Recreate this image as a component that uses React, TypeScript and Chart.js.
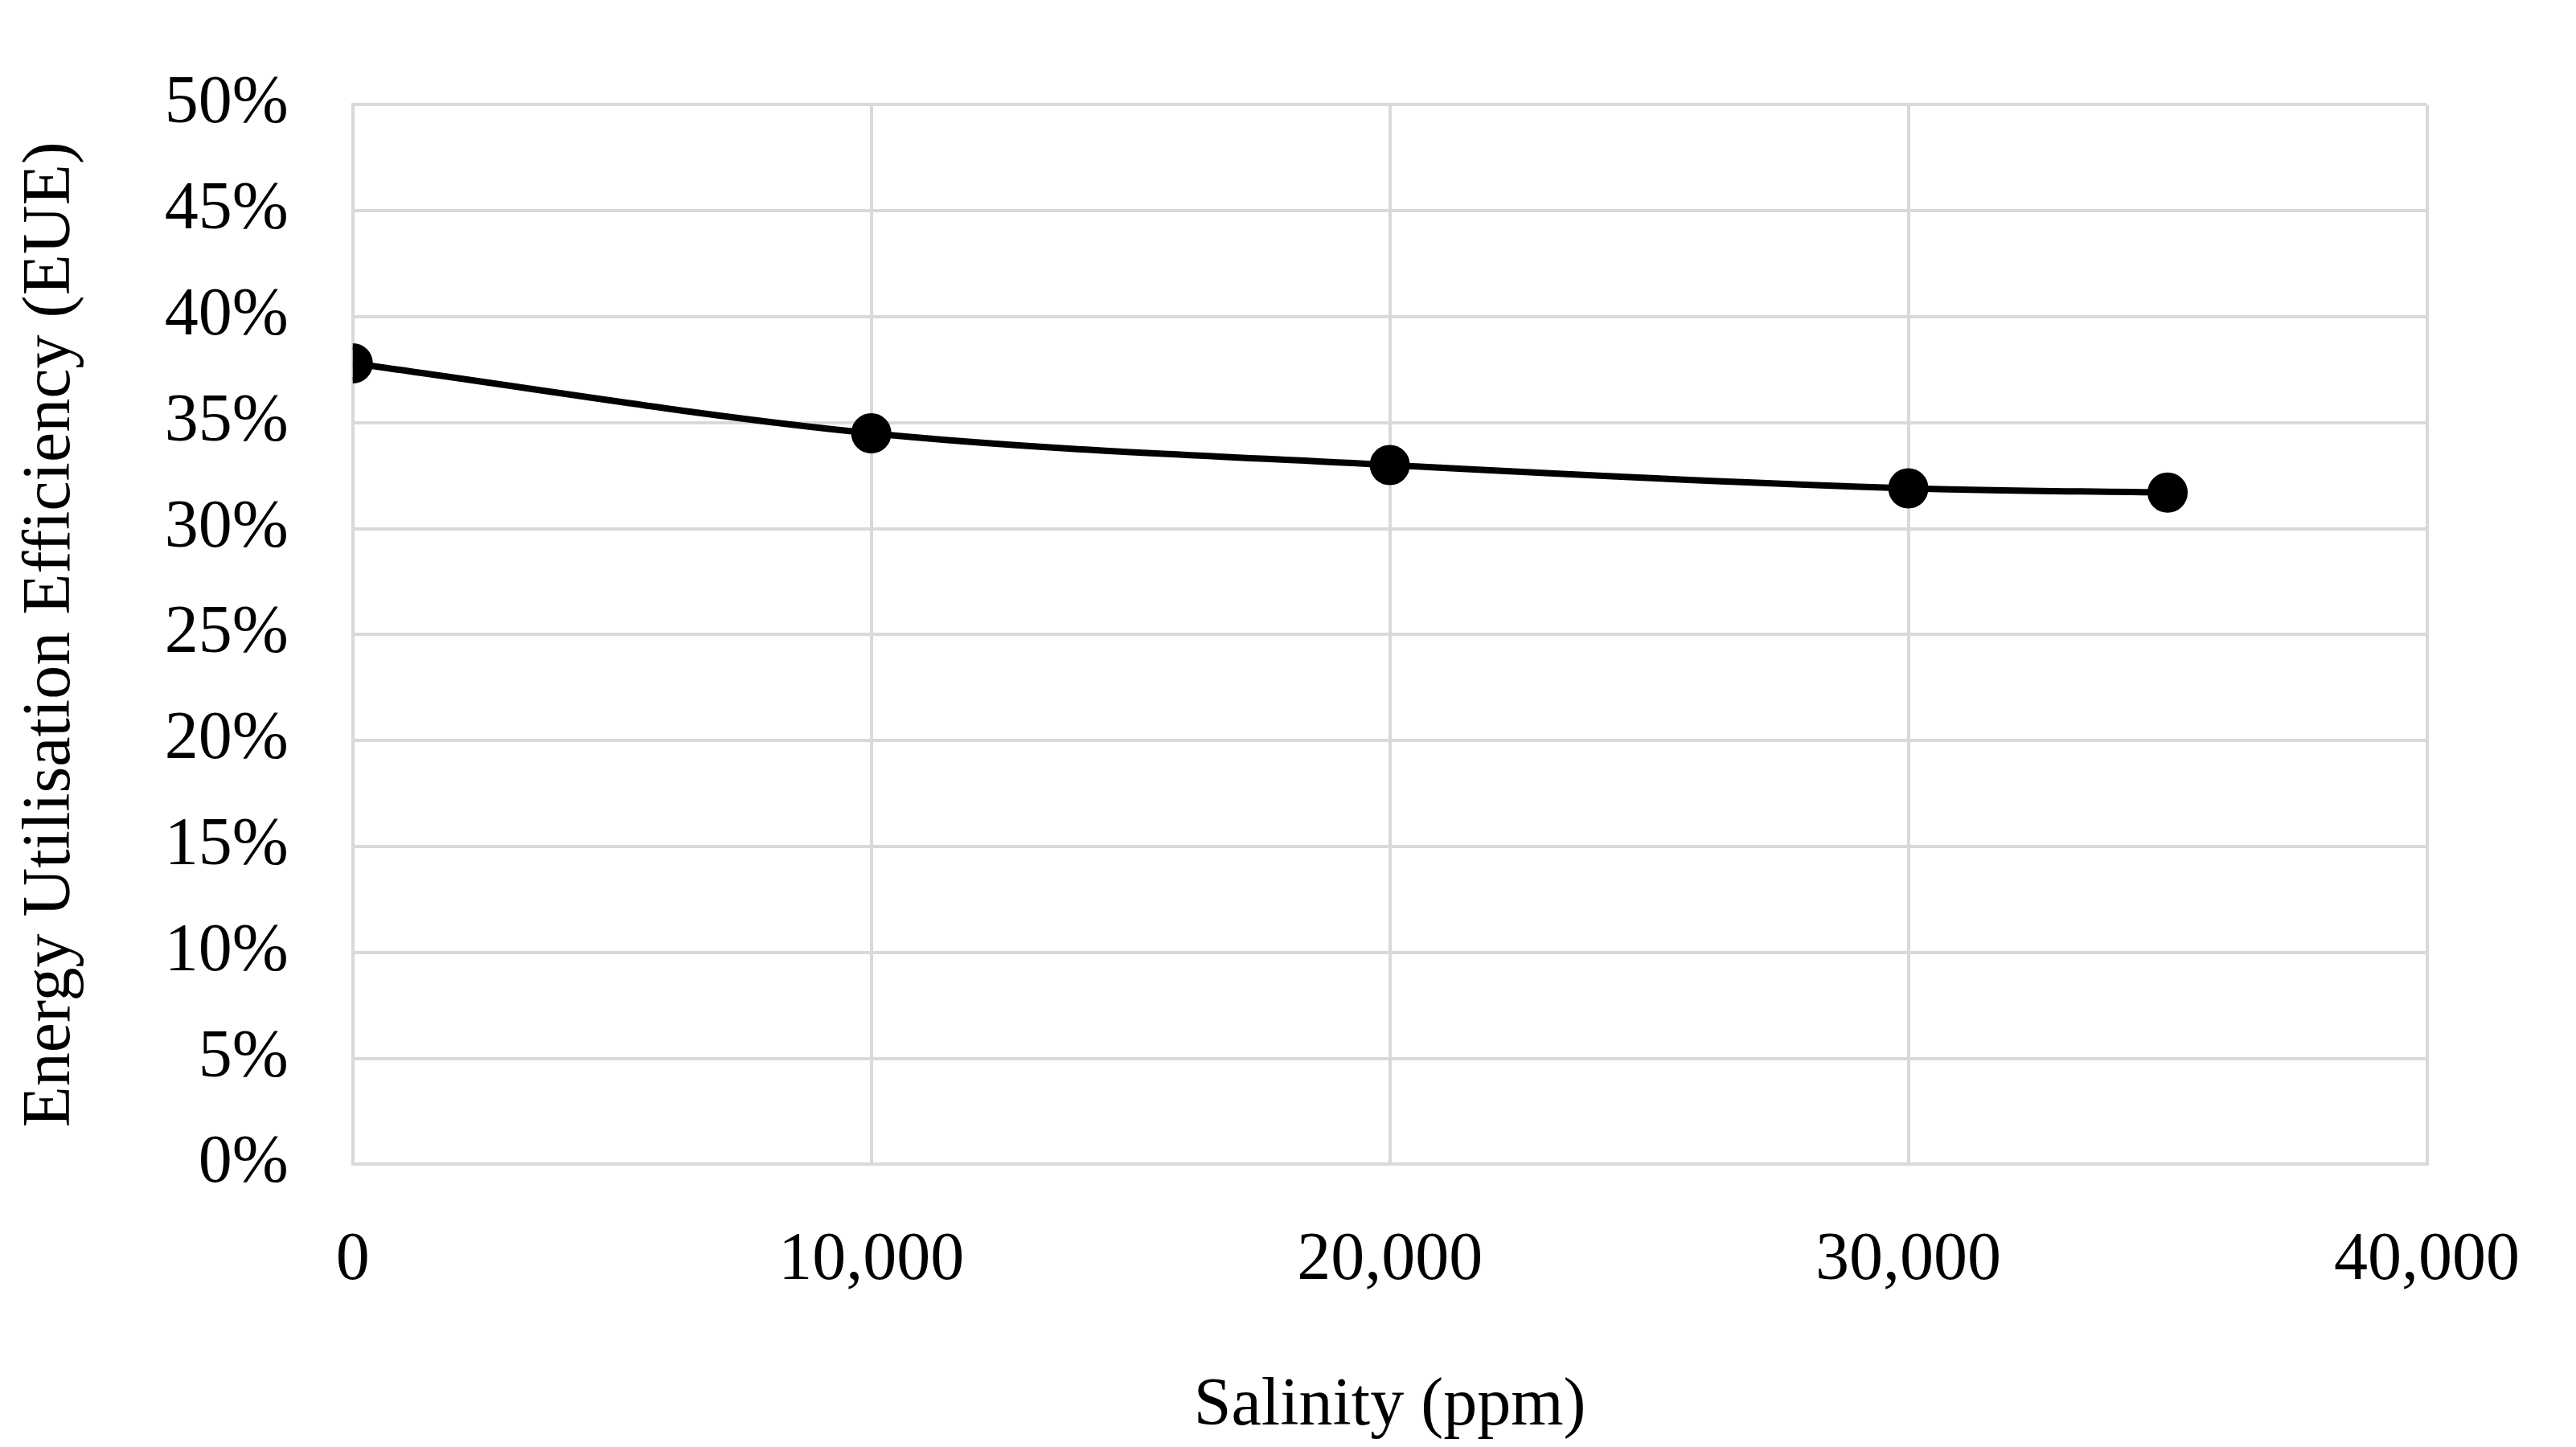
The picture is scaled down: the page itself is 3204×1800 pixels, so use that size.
import React, { useEffect, useRef } from "react";
import { Chart, registerables } from "chart.js";
Chart.register(...registerables);

const salinity = [0, 10000, 20000, 30000, 35000];
const eue = [0.378, 0.345, 0.330, 0.319, 0.317];

export default function App() {
  const ref = useRef<HTMLCanvasElement>(null);
  useEffect(() => {
    document.body.style.margin = "0";
    const font = { family: "'Liberation Serif', 'DejaVu Serif', serif", size: 84 };
    const chart = new Chart(ref.current!, {
      type: "line",
      data: {
        datasets: [{
          data: salinity.map((x, i) => ({ x, y: eue[i] })),
          borderColor: "#000", backgroundColor: "#000",
          borderWidth: 8, pointRadius: 21, cubicInterpolationMode: "monotone",
        }],
      },
      options: {
        animation: false, responsive: false,
        layout: { padding: { top: 30, right: 10, left: 10, bottom: 0 } },
        plugins: { legend: { display: false }, tooltip: { enabled: false } },
        scales: {
          x: {
            type: "linear", min: 0, max: 40000,
            ticks: { stepSize: 10000, color: "#000", font, padding: 70,
              callback: (v: any) => Number(v).toLocaleString("en-US") },
            grid: { color: "#d9d9d9", lineWidth: 4, tickLength: 0 },
            border: { color: "#d9d9d9", width: 4 },
            title: { display: true, text: "Salinity (ppm)", color: "#000", font, padding: { top: 10, bottom: 0 } },
          },
          y: {
            min: 0, max: 0.5,
            ticks: { stepSize: 0.05, color: "#000", font, padding: 80,
              callback: (v: any) => Math.round(Number(v) * 100) + "%" },
            grid: { color: "#d9d9d9", lineWidth: 4, tickLength: 0 },
            border: { color: "#d9d9d9", width: 4 },
            title: { display: true, text: "Energy Utilisation Efficiency (EUE)", color: "#000", font, padding: { bottom: 10 } },
          },
        },
      },
    } as any);
    return () => chart.destroy();
  }, []);
  return <canvas ref={ref} width={3204} height={1800} style={{ display: "block" }} />;
}
